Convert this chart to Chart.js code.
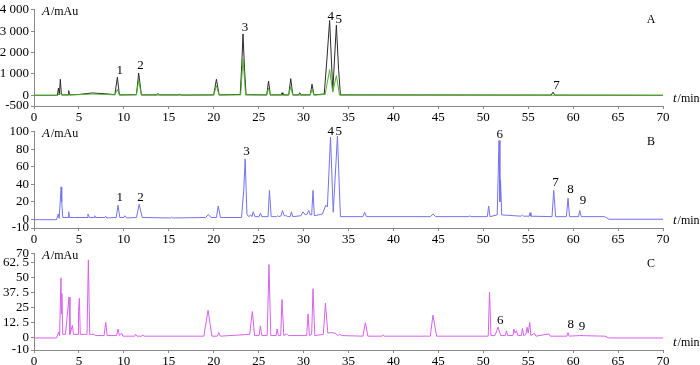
<!DOCTYPE html>
<html>
<head>
<meta charset="utf-8">
<script src="https://cdn.jsdelivr.net/npm/chart.js@4"></script>
<style>
  body { margin: 0; background: #fff; }
  #wrap { position: relative; width: 700px; height: 365px; overflow: hidden; }
  .panel { position: absolute; left: 0; width: 700px; }
</style>
</head>
<body>
<div id="wrap">
  <div class="panel" style="top:0px"><canvas id="chartA" width="700" height="122"></canvas></div>
  <div class="panel" style="top:122px"><canvas id="chartB" width="700" height="122"></canvas></div>
  <div class="panel" style="top:244px"><canvas id="chartC" width="700" height="121"></canvas></div>
</div>
<script>
// Panel A - black trace (time in min, absorbance in mAu)
const timesA_black = [0, 2.6, 2.72, 2.82, 2.93, 3.05, 3.8, 3.86, 3.95, 5.0, 6.5, 8.0, 9.0, 9.28, 9.5,
  11.4, 11.65, 11.95, 13.6, 13.8, 14.0, 16.0, 16.2, 16.4, 20.0, 20.3, 20.6,
  22.95, 23.12, 23.26, 23.42, 23.6, 25.9, 26.1, 26.3, 27.5, 27.6, 27.7, 28.35, 28.57, 28.8,
  29.45, 29.57, 29.7, 30.75, 30.94, 31.15, 32.3, 32.6, 32.9, 33.25, 33.65, 33.9, 34.1,
  57.55, 57.76, 57.95, 70];
const valuesA_black = [0, 0, 340, 20, 750, 20, 20, 220, 20, 40, 110, 70, 30, 850, 20,
  30, 1040, 20, 20, 75, 20, 20, 45, 10, 20, 750, 20,
  40, 1400, 2870, 1300, 30, 20, 670, 20, 20, 120, 20, 20, 780, 20,
  20, 120, 20, 20, 520, 20, 60, 1700, 3500, 200, 3280, 1200, 20,
  10, 150, 10, 0];

// Panel A - green trace
const timesA_green = [0, 2.6, 2.93, 3.1, 5.0, 6.5, 8.0, 9.0, 9.28, 9.5, 11.4, 11.65, 11.95,
  20.0, 20.3, 20.6, 23.0, 23.26, 23.55, 25.9, 26.1, 26.3, 28.35, 28.57, 28.8,
  30.75, 30.94, 31.15, 32.4, 32.9, 33.25, 33.65, 34.0, 70];
const valuesA_green = [0, 0, 100, 10, 30, 60, 40, 20, 280, 10, 20, 700, 10,
  10, 450, 10, 20, 1700, 20, 10, 340, 10, 10, 400, 10,
  10, 300, 10, 40, 1200, 150, 920, 10, 0];

// Panel B - blue trace
const timesB = [0, 2.5, 2.7, 2.8, 3.02, 3.07, 3.1, 3.2, 3.8, 3.86, 3.95, 4.5, 5.9, 6.0, 6.15,
  6.7, 6.76, 6.85, 7.9, 7.98, 8.1, 9.15, 9.35, 9.55, 10.0, 10.1, 10.3, 11.4, 11.7, 12.05,
  15.2, 15.3, 15.45, 19.1, 19.4, 19.7, 20.3, 20.5, 20.75, 23.1, 23.35, 23.5, 23.7,
  23.95, 24.1, 24.25, 24.4, 24.6, 25.05, 25.2, 25.35, 26.05, 26.2, 26.4, 27.0, 27.1, 27.25,
  27.5, 27.65, 27.85, 28.1, 28.25, 28.5, 28.65, 28.8, 29.7, 29.94, 30.2, 30.4, 30.57, 30.75,
  30.9, 31.05, 31.2, 32.1, 32.47, 32.65, 33.0, 33.3, 33.77, 34.1, 36.6, 36.8, 37.0,
  44.1, 44.4, 44.7, 48.4, 48.5, 48.6, 50.45, 50.6, 50.75, 51.55, 51.75, 51.85, 51.92, 52.05,
  54.2, 54.35, 54.5, 55.1, 55.2, 55.3, 57.65, 57.84, 58.05, 59.25, 59.43, 59.6,
  60.6, 60.73, 60.9, 63.5, 64.0, 70];
const valuesB = [-0.5, -0.5, 6, 1, 37, 20, 20, 2, 2, 8.5, 2, 2, 2, 6, 2,
  2, 4, 2, 2, 3.5, 1.5, 2, 16, 2, 2, 4, 1.5, 2, 17, 2,
  1.5, 2.5, 1.5, 2, 5.5, 2, 2, 15, 2, 2, 35, 69, 5,
  3, 5, 3, 8.5, 3, 3, 7, 3, 3, 33, 3, 3, 4, 3,
  4, 10, 4, 4, 3, 3, 8.5, 3, 4, 8.5, 5, 6, 10, 5,
  5, 33, 4, 6, 16, 14, 94, 8, 95, 3, 3, 8, 3,
  3, 6, 3, 3, 4, 3, 3, 15, 3, 5, 90, 20, 45, 5,
  3.5, 5, 3.5, 3.5, 7.5, 3.5, 3, 33, 3, 3, 24, 3,
  3, 10, 3, 3, 0, 0];

// Panel C - magenta trace
const timesC = [0, 2.5, 2.75, 2.85, 3.0, 3.05, 3.1, 3.2, 3.5, 3.9, 4.0, 4.27, 4.4,
  4.9, 4.95, 5.05, 5.15, 5.9, 6.05, 6.2, 6.7, 6.8, 7.8, 7.98, 8.15, 9.2, 9.35, 9.5, 9.76, 9.9,
  11.2, 11.3, 11.45, 12.0, 12.1, 12.25, 18.9, 19.37, 19.8, 20.4, 20.56, 20.75,
  24.0, 24.3, 24.55, 25.05, 25.2, 25.35, 25.95, 26.15, 26.35, 26.95, 27.05, 27.2,
  27.45, 27.6, 27.8, 28.1, 28.3, 30.35, 30.5, 30.65, 30.9, 31.05, 31.25,
  32.2, 32.43, 32.7, 33.0, 33.5, 33.8, 34.0, 34.3, 36.6, 36.88, 37.15, 38.7, 38.85, 39.0,
  44.1, 44.4, 44.8, 50.55, 50.7, 50.85, 51.3, 51.64, 51.95, 52.45, 52.58, 52.7,
  53.3, 53.4, 53.55, 53.7, 53.85, 54.25, 54.35, 54.5, 54.75, 54.87, 55.0, 55.17, 55.3,
  55.7, 55.85, 57.3, 57.45, 59.3, 59.43, 59.55, 60.73, 63.5, 64.0, 70];
const valuesC = [0, 0, 5, 2, 50, 20, 37, 3, 3, 34, 3, 10.5, 3,
  3, 22, 33, 3, 3, 65, 3, 3, 2, 2, 13, 2, 2, 7.5, 2, 4, 1.5,
  1.5, 3, 1.5, 1.5, 2.5, 1.5, 1.5, 23, 1.5, 1.5, 4.5, 1.5,
  3, 22, 2, 2, 10, 2, 2, 61, 2, 2, 7.5, 2,
  2, 32, 2, 3.5, 2, 2, 20, 2, 3, 41, 2,
  3, 29, 4, 4.5, 4, 2, 3, 2, 1.5, 12.7, 1.5, 1.5, 2.5, 1.5,
  1.5, 19, 1.5, 1.5, 38, 2, 2, 9, 2, 2, 6, 2,
  2, 7.4, 4, 6, 2, 2, 8, 2, 3, 9, 4, 13, 2,
  4, 1.5, 3.4, 1.5, 1.5, 4.5, 1.5, 2, 1.5, 0, 0];

// y-axis ticks and their printed labels
const yTicksA = [4000, 3000, 2000, 1000, 0, -500];
const yLabelsA = ['4 000', '3 000', '2 000', '1 000', '0', '-500'];
const yTicksB = [100, 80, 60, 40, 20, 0, -10];
const yLabelsB = ['100', '80', '60', '40', '20', '0', '-10'];
const yTicksC = [70, 62.5, 50, 37.5, 25, 12.5, 0, -10];
const yLabelsC = ['70', '62. 5', '50', '37. 5', '25', '12. 5', '0', '-10'];

// peak numbers (text, time, value at text centre)
const peakTextA = ['1', '2', '3', '4', '5', '7'];
const peakTimeA = [9.54, 11.84, 23.48, 33.02, 33.91, 58.14];
const peakValA = [1136, 1371, 3154, 3702, 3555, 436];
const peakTextB = ['1', '2', '3', '4', '5', '6', '7', '8', '9'];
const peakTimeB = [9.54, 11.84, 23.64, 33.02, 33.91, 51.83, 58.03, 59.7, 61.1];
const peakValB = [24.5, 24.5, 76.9, 99.7, 100.3, 96.7, 41.7, 33.7, 21.6];
const peakTextC = ['6', '8', '9'];
const peakTimeC = [51.9, 59.73, 60.99];
const peakValC = [14.1, 10.9, 9.6];

const FONT = "'Liberation Serif', 'DejaVu Serif', serif";
Chart.defaults.font.family = FONT;
Chart.defaults.font.size = 13;
Chart.defaults.color = '#000';

function toPoints(times, values) {
    return times.map((t, i) => ({ x: t, y: values[i] }));
}

// Draws peak numbers, axis titles and the panel letter
function textPlugin(cfg) {
    return {
        id: 'panelText',
        afterDatasetsDraw(chart) {
            const ctx = chart.ctx;
            const area = chart.chartArea;
            const xs = chart.scales.x, ys = chart.scales.y;
            ctx.save();
            ctx.fillStyle = '#000';
            ctx.textAlign = 'center';
            ctx.textBaseline = 'middle';
            ctx.font = '13px ' + FONT;
            cfg.text.forEach((s, i) => {
                ctx.fillText(s, xs.getPixelForValue(cfg.times[i]), ys.getPixelForValue(cfg.values[i]));
            });
            // panel letter
            ctx.font = '12px ' + FONT;
            ctx.fillText(cfg.letter, area.right - 12, area.top + 10);
            // y title: A/mAu
            ctx.textAlign = 'left';
            let x = area.left + 8;
            const yTitle = area.top + 2;
            ctx.font = 'italic 13px ' + FONT;
            ctx.fillText('A', x, yTitle);
            x += ctx.measureText('A').width + 1;
            ctx.font = '12px ' + FONT;
            ctx.fillText('/mAu', x, yTitle);
            // x title: t/min
            let tx = area.right + 10;
            const tY = area.bottom - 7;
            ctx.font = 'italic 13px ' + FONT;
            ctx.fillText('t', tx, tY);
            tx += ctx.measureText('t').width + 1;
            ctx.font = '12px ' + FONT;
            ctx.fillText('/min', tx, tY);
            ctx.restore();
        }
    };
}

function makeChart(id, datasets, yMin, yMax, yTicks, yLabels, padTop, xHeight, cfg) {
    return new Chart(document.getElementById(id), {
        type: 'line',
        data: { datasets: datasets },
        options: {
            animation: false,
            responsive: false,
            maintainAspectRatio: false,
            layout: { padding: { top: padTop, right: 37, left: 0, bottom: 0 } },
            plugins: { legend: { display: false }, tooltip: { enabled: false } },
            elements: { point: { radius: 0 }, line: { tension: 0, borderWidth: 1 } },
            scales: {
                x: {
                    type: 'linear', min: 0, max: 70,
                    ticks: { stepSize: 5, maxRotation: 0, padding: 1, color: '#000' },
                    grid: { drawOnChartArea: false, tickLength: 3, color: '#888' },
                    border: { color: '#888' },
                    afterFit: s => { s.height = xHeight; }
                },
                y: {
                    min: yMin, max: yMax,
                    afterBuildTicks: s => { s.ticks = yTicks.map(v => ({ value: v })); },
                    ticks: { callback: (v, i) => yLabels[i], padding: 2, color: '#000', autoSkip: false },
                    grid: { drawOnChartArea: false, tickLength: 3, color: '#888' },
                    border: { color: '#888' },
                    afterFit: s => { s.width = 34; }
                }
            }
        },
        plugins: [textPlugin(cfg)]
    });
}

makeChart('chartA', [
    { data: toPoints(timesA_green, valuesA_green), borderColor: '#4fb52a', order: 0 },
    { data: toPoints(timesA_black, valuesA_black), borderColor: '#2b2b2b', order: 1 }
], -500, 4000, yTicksA, yLabelsA, 5, 16,
    { text: peakTextA, times: peakTimeA, values: peakValA, letter: 'A' });

makeChart('chartB', [
    { data: toPoints(timesB, valuesB), borderColor: '#7373f0' }
], -10, 100, yTicksB, yLabelsB, 6, 16,
    { text: peakTextB, times: peakTimeB, values: peakValB, letter: 'B' });

makeChart('chartC', [
    { data: toPoints(timesC, valuesC), borderColor: '#d862ee' }
], -10, 70, yTicksC, yLabelsC, 4, 15,
    { text: peakTextC, times: peakTimeC, values: peakValC, letter: 'C' });
</script>
</body>
</html>
